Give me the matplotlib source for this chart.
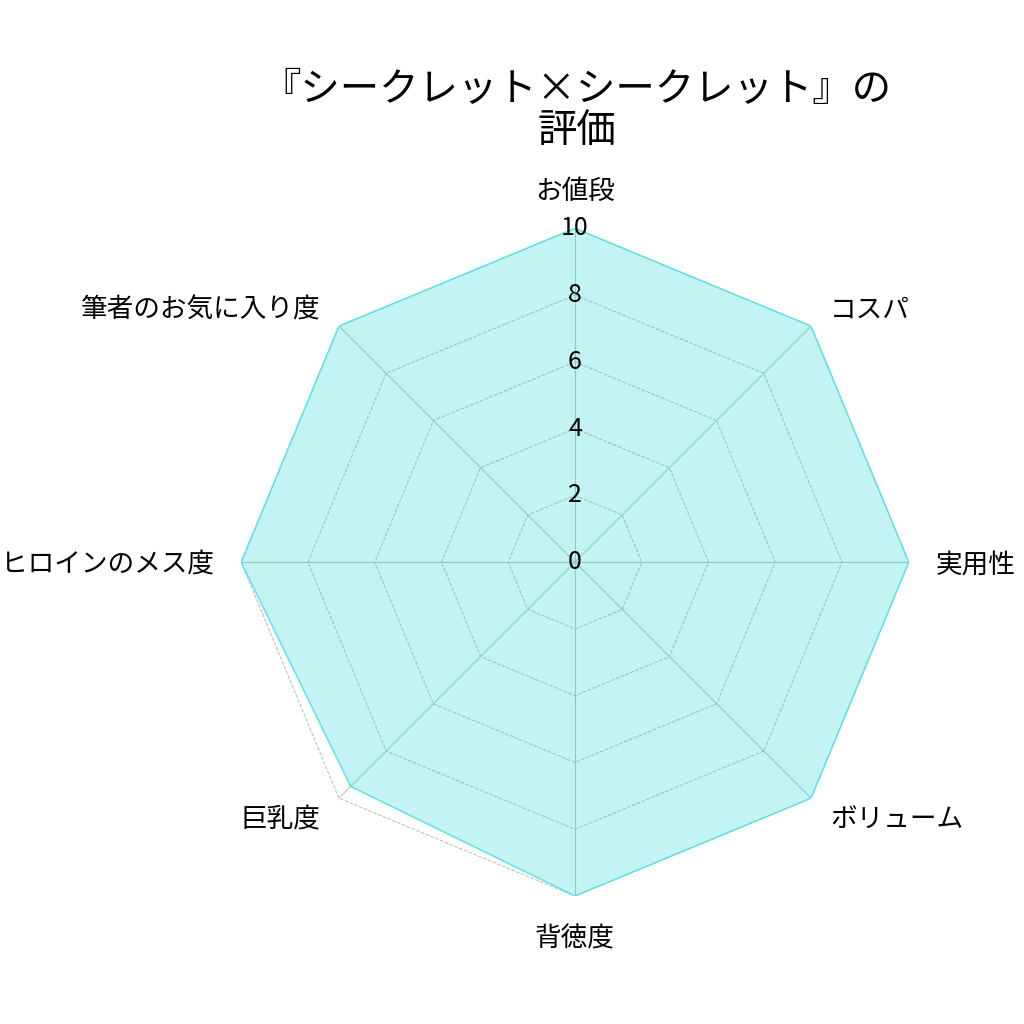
import numpy as np
import matplotlib
matplotlib.use("Agg")
import matplotlib.pyplot as plt
from matplotlib.transforms import offset_copy

plt.rcParams['font.family'] = ['Noto Sans CJK JP', 'DejaVu Sans']

# データ
categories = ['お値段', 'コスパ', '実用性', 'ボリューム', '背徳度', '巨乳度', 'ヒロインのメス度', '筆者のお気に入り度']
scores = [10, 10, 10, 10, 10, 9.5, 10, 10]
ring_levels = [2, 4, 6, 8, 10]
tick_values = [0, 2, 4, 6, 8, 10]
title = '『シークレット×シークレット』の\n評価'

n = len(categories)
angles = np.linspace(0, 2 * np.pi, n, endpoint=False)
angles_closed = np.concatenate([angles, angles[:1]])
scores_closed = scores + scores[:1]

fig = plt.figure(figsize=(10.24, 10.24), dpi=100)
ax = fig.add_axes([0.2355, 0.125, 0.652, 0.652], projection='polar')
ax.set_theta_offset(np.pi / 2)
ax.set_theta_direction(-1)
ax.set_ylim(0, 10)
ax.set_axisbelow(False)

# グリッドは手描き(多角形)
ax.grid(False)
ax.spines['polar'].set_visible(False)
for lv in ring_levels:
    ax.plot(angles_closed, [lv] * (n + 1), color='#b8b8b8', lw=0.7, ls='--', zorder=1)
for a in angles:
    ax.plot([a, a], [0, 10], color='#b5c9c9', lw=0.8, zorder=1)

ax.fill(angles_closed, scores_closed, color='#0bcfcf', alpha=0.24, zorder=1.2)
ax.plot(angles_closed, scores_closed, color='#5ee3e8', lw=1.0, zorder=1.3)

# 項目ラベル
ax.set_xticks(angles)
ax.set_xticklabels([])
label_tf = offset_copy(ax.transData, fig=fig, x=0, y=-3, units='dots')
for a, name in zip(angles, categories):
    s, c = np.sin(a), np.cos(a)
    ha = 'center' if abs(s) < 1e-6 else ('left' if s > 0 else 'right')
    if c > 0.99:
        va = 'bottom'
    elif c < -0.99:
        va = 'top'
    else:
        va = 'center'
    ax.text(a, 10.8, name, ha=ha, va=va, fontsize=19.2, transform=label_tf)

ax.set_yticks(tick_values)
ax.set_yticklabels([str(v) for v in tick_values], fontsize=18)
ax.set_rlabel_position(0)
for lbl in ax.get_yticklabels():
    lbl.set_horizontalalignment('center')
    lbl.set_verticalalignment('center')

fig.text(0.563, 0.892, title, ha='center', va='center', fontsize=28.4, linespacing=1.05)

fig.savefig('out.png', dpi=100)
